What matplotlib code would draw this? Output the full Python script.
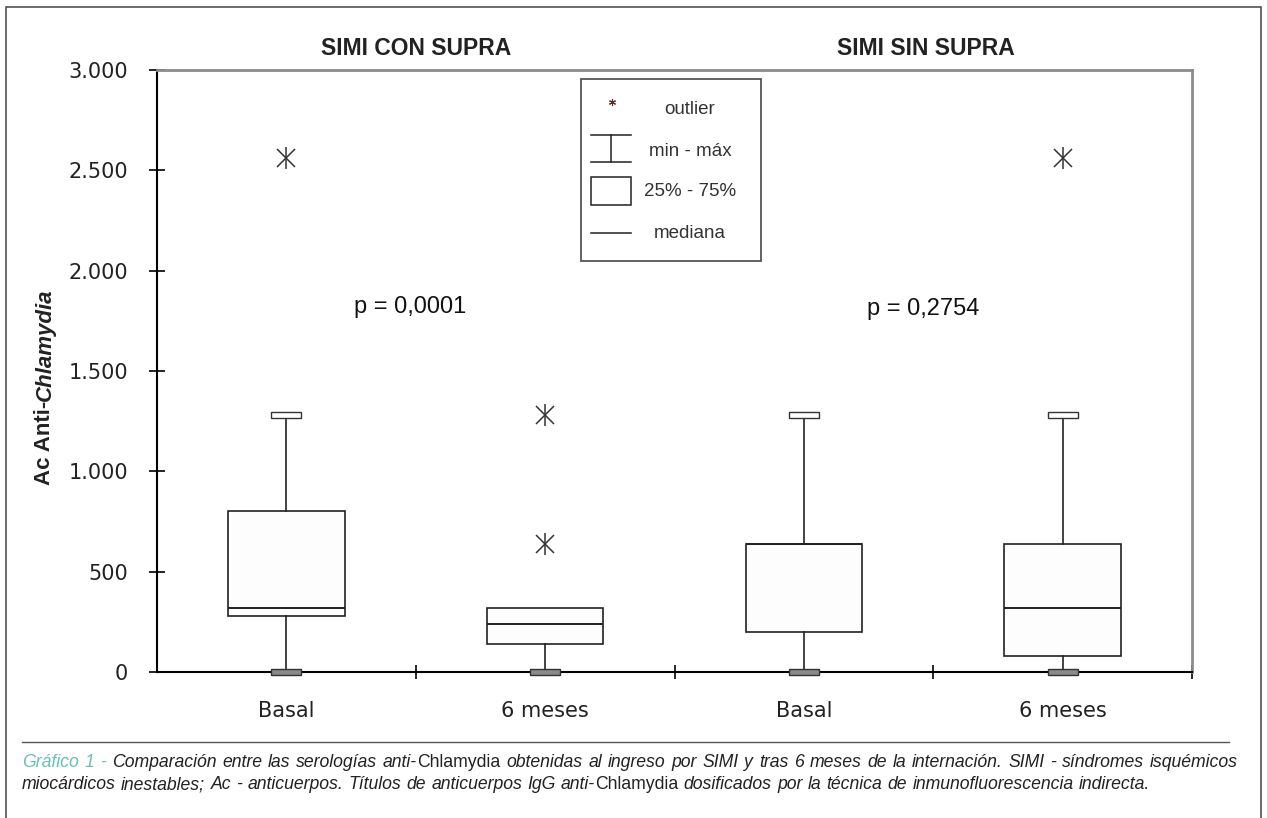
import matplotlib

matplotlib.use("Agg")
import matplotlib.pyplot as plt
from matplotlib import font_manager
from matplotlib.lines import Line2D
from matplotlib.patches import Rectangle

W, H = 1267, 818

groups = ["SIMI CON SUPRA", "SIMI SIN SUPRA"]
p_values = ["p = 0,0001", "p = 0,2754"]
categories = ["Basal", "6 meses", "Basal", "6 meses"]
q1 = [280, 140, 200, 80]
median = [320, 240, 640, 320]
q3 = [800, 320, 640, 640]
whisker_lo = [0, 0, 0, 0]
whisker_hi = [1280, 320, 1280, 1280]
outliers = [[2560], [1280, 640], [], [2560]]
y_ticks = [0, 500, 1000, 1500, 2000, 2500, 3000]
y_tick_labels = ["0", "500", "1.000", "1.500", "2.000", "2.500", "3.000"]
legend_labels = ["outlier", "min - máx", "25% - 75%", "mediana"]

caption_1 = [("Gráfico 1 - ", "teal"),
             ("Comparación entre las serologías anti-", "it"), ("Chlamydia", "up"),
             (" obtenidas al ingreso por SIMI y tras 6 meses de la internación. "
              "SIMI - síndromes isquémicos", "it")]
caption_2 = [("miocárdicos inestables; Ac - anticuerpos. Títulos de anticuerpos IgG anti-", "it"),
             ("Chlamydia", "up"),
             (" dosificados por la técnica de inmunofluorescencia indirecta.", "it")]

INK = "#222222"
TEAL = "#66c2b4"


def has_font(name):
    try:
        font_manager.findfont(font_manager.FontProperties(family=name), fallback_to_default=False)
        return True
    except ValueError:
        return False


SANS = "Liberation Sans" if has_font("Liberation Sans") else "DejaVu Sans"
NARROW = "Liberation Sans Narrow" if has_font("Liberation Sans Narrow") else SANS


def px(x, y):
    return (x / W, 1 - y / H)


fig = plt.figure(figsize=(W / 100, H / 100), dpi=100)
ax = fig.add_axes([157 / W, 1 - 672 / H, (1192 - 157) / W, (672 - 70) / H])

pos = list(range(1, len(categories) + 1))
stats = [dict(med=m, q1=a, q3=b, whislo=lo, whishi=hi, fliers=[])
         for m, a, b, lo, hi in zip(median, q1, q3, whisker_lo, whisker_hi)]
line_kw = dict(color=INK, lw=1.2)
ax.bxp(stats, positions=pos, widths=0.45, showcaps=False, showfliers=False,
       patch_artist=True,
       boxprops=dict(facecolor="#fdfdfd", edgecolor=INK, lw=1.2),
       medianprops=dict(color=INK, lw=1.4), whiskerprops=line_kw)

# caps drawn as small boxes
cap_w, cap_h = 0.116, 32
for p, lo, hi, top in zip(pos, whisker_lo, whisker_hi, q3):
    ax.add_patch(Rectangle((p - cap_w / 2, lo - cap_h / 2), cap_w, cap_h,
                           facecolor="#8a8a8a", edgecolor="#333333", lw=1, clip_on=False, zorder=4))
    if hi > top:
        ax.add_patch(Rectangle((p - cap_w / 2, hi - cap_h / 2), cap_w, cap_h,
                               facecolor="white", edgecolor="#333333", lw=1, clip_on=False, zorder=4))

for p, vals in zip(pos, outliers):
    if vals:
        ax.plot([p] * len(vals), vals, ls="none", marker="x", ms=13, mew=1.1, color="#333333")
        ax.plot([p] * len(vals), vals, ls="none", marker="|", ms=16, mew=1.1, color="#333333")

ax.set_xlim(0.5, len(categories) + 0.5)
ax.set_ylim(0, 3000)
ax.set_yticks(y_ticks)
ax.set_yticklabels(y_tick_labels)
ax.set_xticks([p + 0.5 for p in pos])
ax.set_xticklabels([])
ax.set_xticks(pos, minor=True)
ax.set_xticklabels(categories, minor=True)
ax.tick_params(axis="y", direction="inout", length=11.5, width=1.2, pad=15,
               labelsize=15, labelcolor=INK)
ax.tick_params(axis="x", which="major", direction="inout", length=10, width=1.2)
ax.tick_params(axis="x", which="minor", length=0, pad=21, labelsize=15, labelcolor=INK)
for lab in ax.get_yticklabels() + ax.get_xticklabels(minor=True):
    lab.set_family("DejaVu Sans")
for side in ["left", "bottom"]:
    ax.spines[side].set_color("black")
    ax.spines[side].set_linewidth(1.5)
for side in ["top", "right"]:
    ax.spines[side].set_color("#8c8c8c")
    ax.spines[side].set_linewidth(2)

# group titles and p values
for i, (g, pv) in enumerate(zip(groups, p_values)):
    xc = 1.5 + 2 * i
    ax.text(xc - 0.03 * i, 1.036, g, transform=ax.get_xaxis_transform(), ha="center",
            va="center", fontsize=16.5, fontweight="bold", family=SANS, color=INK)
    ax.text(xc - 0.02 - 0.02 * i, 1820 - 10 * i, pv, ha="center", va="center",
            fontsize=17, family=SANS, color="#111111")

# y label with italic genus name
renderer = fig.canvas.get_renderer()
t1 = fig.text(*px(45, 485), "Ac Anti-", rotation=90, ha="center", va="bottom",
              fontsize=16, fontweight="bold", family=SANS, color=INK)
h1 = t1.get_window_extent(renderer).height
fig.text(*px(45, 485 - h1), "Chlamydia", rotation=90, ha="center", va="bottom",
         fontsize=16, fontweight="bold", style="italic", family=SANS, color=INK)

# legend box
fig.add_artist(Rectangle(px(581, 261), 180 / W, 182 / H, transform=fig.transFigure,
                         facecolor="white", edgecolor="#555555", lw=1.3))
fig.add_artist(Line2D([px(612, 0)[0]], [px(0, 102)[1]], transform=fig.transFigure,
                      marker=(6, 2, 0), ms=5, mew=0.8, color="#5a2a2a", ls="none"))
for y in (135, 162):
    fig.add_artist(Line2D([591 / W, 631 / W], [1 - y / H] * 2, transform=fig.transFigure,
                          color=INK, lw=1.1))
fig.add_artist(Line2D([611 / W] * 2, [1 - 135 / H, 1 - 162 / H], transform=fig.transFigure,
                      color=INK, lw=1.1))
fig.add_artist(Rectangle(px(591, 205), 40 / W, 28 / H, transform=fig.transFigure,
                         facecolor="white", edgecolor=INK, lw=1.1))
fig.add_artist(Line2D([591 / W, 631 / W], [1 - 233 / H] * 2, transform=fig.transFigure,
                      color=INK, lw=1.1))
for lab, y in zip(legend_labels, [110, 151, 192, 233]):
    fig.text(*px(690, y), lab, ha="center", va="center", fontsize=13.5, family=SANS, color="#333333")

# outer frame and caption rule
fig.add_artist(Rectangle(px(6, 830), 1255 / W, 823 / H, transform=fig.transFigure,
                         facecolor="none", edgecolor="#444444", lw=1.1, clip_on=False))
fig.add_artist(Line2D([22 / W, 1229 / W], [1 - 742 / H] * 2, transform=fig.transFigure,
                      color="#555555", lw=1))


def split_words(segments):
    words, cur = [], []
    for txt, style in segments:
        chunks = txt.split(" ")
        for k, ch in enumerate(chunks):
            if k > 0:
                if cur:
                    words.append(cur)
                cur = []
            if ch:
                cur.append((ch, style))
    if cur:
        words.append(cur)
    return words


def make_words(segments, size):
    out = []
    for word in split_words(segments):
        parts = []
        for txt, style in word:
            t = fig.text(0, 0, txt, fontsize=size, family=NARROW,
                         style="normal" if style == "up" else "italic",
                         color=TEAL if style == "teal" else INK, ha="left", va="baseline")
            parts.append((t, t.get_window_extent(renderer).width))
        out.append(parts)
    return out


def space_w(size):
    return size * 0.3 * 100 / 72


def place_line(words, x0, y, size, target=None):
    widths = [sum(w for _, w in parts) for parts in words]
    gap = space_w(size)
    if target is not None:
        gap = (target - sum(widths)) / (len(words) - 1)
    x = x0
    for parts in words:
        for t, w in parts:
            t.set_position(px(x, y))
            x += w
        x += gap


# pick the caption size so the first line fills the rule at natural spacing
cap_size = 12
natural = make_words(caption_1, cap_size)
nat_w = sum(w for parts in natural for _, w in parts) + (len(natural) - 1) * space_w(cap_size)
for parts in natural:
    for t, _ in parts:
        t.remove()
cap_size = cap_size * 1216 / nat_w * 0.99
place_line(make_words(caption_1, cap_size), 22, 767, cap_size, target=1216)
place_line(make_words(caption_2, cap_size), 22, 789, cap_size)

fig.savefig("out.png", dpi=100)
